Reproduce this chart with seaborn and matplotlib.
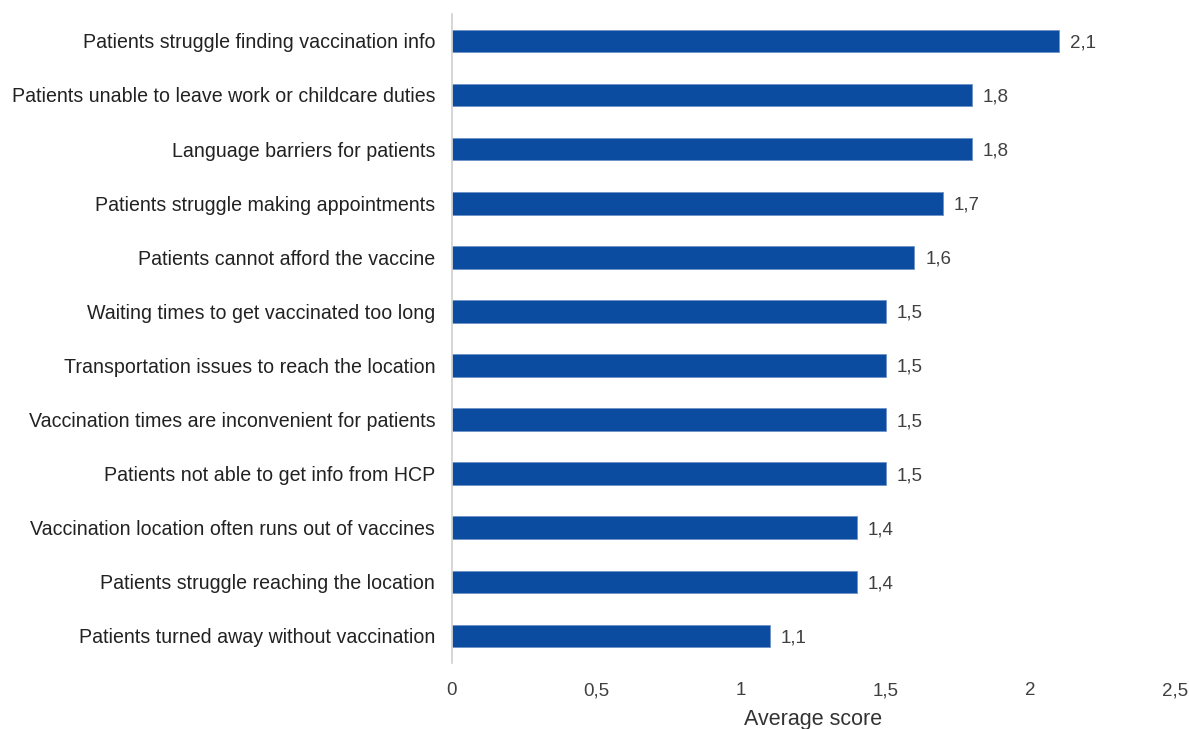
import pandas as pd
import matplotlib.pyplot as plt
import seaborn as sns

barriers = [
    "Patients struggle finding vaccination info",
    "Patients unable to leave work or childcare duties",
    "Language barriers for patients",
    "Patients struggle making appointments",
    "Patients cannot afford the vaccine",
    "Waiting times to get vaccinated too long",
    "Transportation issues to reach the location",
    "Vaccination times are inconvenient for patients",
    "Patients not able to get info from HCP",
    "Vaccination location often runs out of vaccines",
    "Patients struggle reaching the location",
    "Patients turned away without vaccination",
]
scores = [2.1, 1.8, 1.8, 1.7, 1.6, 1.5, 1.5, 1.5, 1.5, 1.4, 1.4, 1.1]
x_ticks = [0, 0.5, 1, 1.5, 2, 2.5]

df = pd.DataFrame({"barrier": barriers, "score": scores})

sns.set_theme(style="white")
plt.rcParams['font.family'] = ['Liberation Sans', 'DejaVu Sans']

fig = plt.figure(figsize=(11.89, 7.29), dpi=100)
ax = fig.add_axes([0.380, 0.0905, 0.608, 0.8905])

sns.barplot(data=df, x="score", y="barrier", orient="h", color="#0b4ba0",
            width=0.42, saturation=1, edgecolor="#6f93c9", linewidth=0.6, ax=ax)

for i, v in enumerate(scores):
    ax.text(v + 0.037, i, f"{v:.1f}".replace(".", ","), va="center_baseline", ha="left",
            fontsize=13.5, color="#404040")

ax.set_xlim(0, 2.5)
ax.set_ylim(11.5, -0.5)
ax.set_xticks(x_ticks)
ax.set_xticklabels([f"{t:g}".replace(".", ",") for t in x_ticks], fontsize=13.5, color="#404040")
ax.tick_params(axis="both", length=0)
ax.tick_params(axis="x", pad=14)
ax.tick_params(axis="y", pad=12, labelsize=14.1, labelcolor="#222222")
ax.set_ylabel("")
ax.set_xlabel("Average score", fontsize=15.5, color="#333333", labelpad=7)

for s in ["top", "right", "bottom"]:
    ax.spines[s].set_visible(False)
ax.spines["left"].set_color("#d0d0d0")
ax.spines["left"].set_linewidth(1.2)

fig.savefig("out.png", dpi=100)
